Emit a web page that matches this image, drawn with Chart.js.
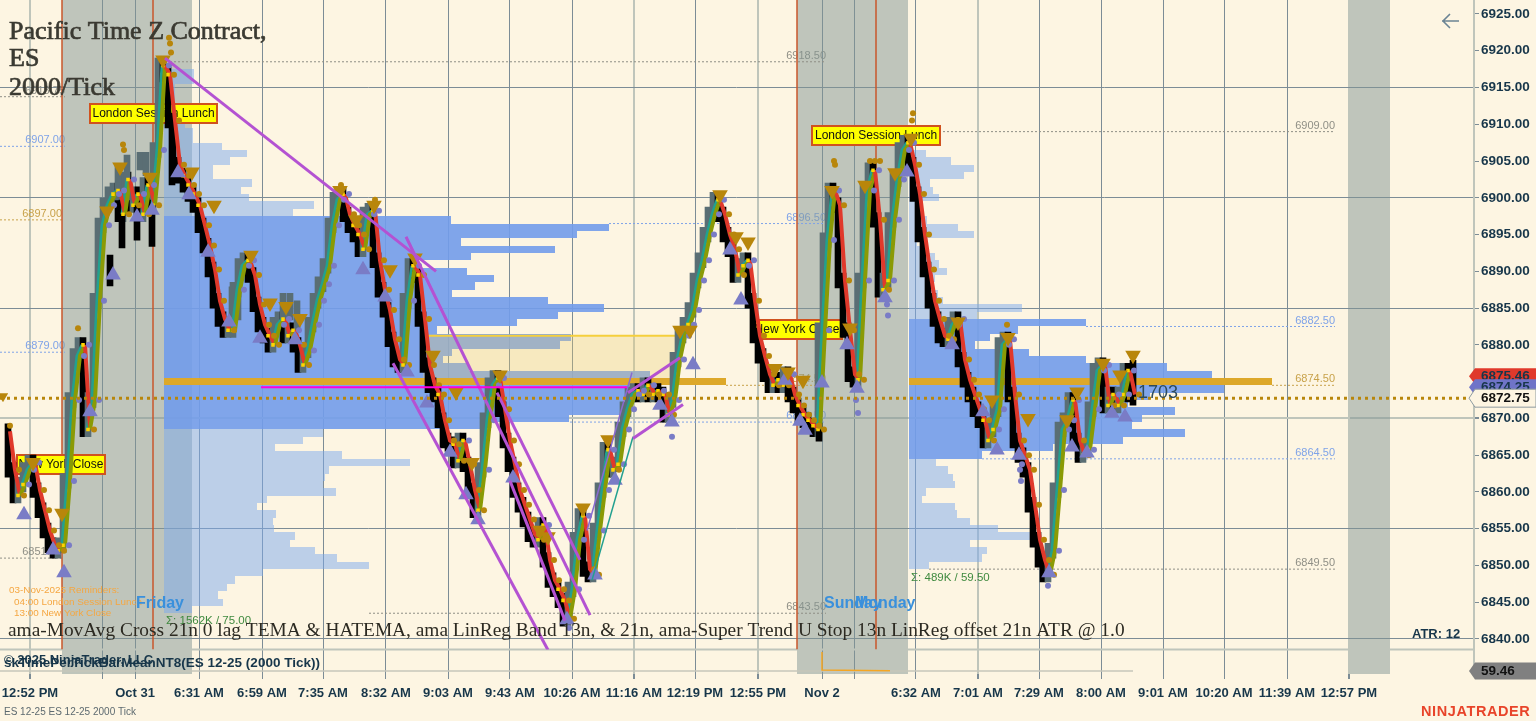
<!DOCTYPE html>
<html>
<head>
<meta charset="utf-8">
<title>ES 12-25 2000 Tick</title>
<script src="https://cdn.jsdelivr.net/npm/chart.js@4/dist/chart.umd.min.js"></script>
<style>
  html, body { margin: 0; padding: 0; background: #fdf5e2; overflow: hidden; }
  canvas { display: block; }
</style>
</head>
<body>
<canvas id="chart" width="1536" height="721"></canvas>
<script>
// --- DATA ---
// closes, one per bar. bar i sits on slot 8 + 5 * i of the time axis
const barClose = [
  6868.25, 6863, 6859.5, 6861, 6863, 6864, 6860.25, 6857.5, 6854.75, 6852.75,
  6852, 6852.75, 6861.5, 6872.5, 6878.5, 6880, 6868.5, 6872.5, 6886, 6896.25,
  6899, 6900.5, 6901, 6897.75, 6902.5, 6899, 6900.5, 6897.75, 6901.75, 6899,
  6906.5, 6918, 6916.75, 6910.5, 6904.5, 6903, 6901.75, 6900.5, 6899, 6896.25,
  6893.5, 6890.25, 6886, 6883.5, 6882, 6882, 6887.5, 6890.75, 6891.5, 6889.5,
  6885.5, 6882.75, 6881.25, 6880, 6882.75, 6883.5, 6881.25, 6882, 6880, 6877.25,
  6879.25, 6882.75, 6886, 6888.25, 6890.75, 6896.25, 6899.75, 6900.5, 6897.75, 6896.25,
  6895, 6893, 6897.75, 6898.25, 6891.5, 6887.5, 6884.75, 6880.75, 6878, 6877.25,
  6886, 6890.75, 6889.5, 6883.5, 6877.25, 6874.5, 6873.25, 6869.75, 6867, 6866.5,
  6864.25, 6867, 6863.75, 6860.25, 6857.5, 6863, 6869.75, 6874.5, 6875.5, 6871.25,
  6867, 6863.75, 6860.25, 6858.25, 6856.25, 6854.25, 6853.5, 6855.5, 6850.75, 6848,
  6846.75, 6845.25, 6842.75, 6846.75, 6853.5, 6856.75, 6849.5, 6848.75, 6854.75, 6860.25,
  6865.75, 6863, 6863.75, 6868.5, 6871.25, 6873.25, 6873.75, 6873.25, 6874.5, 6873.25,
  6873.75, 6873.25, 6870.5, 6872.5, 6878, 6881.25, 6882.75, 6884.75, 6888.75, 6891.5,
  6895, 6897.75, 6899.75, 6897.75, 6895, 6893, 6889.5, 6890.75, 6891.5, 6886,
  6881.25, 6878.5, 6876, 6874.5, 6875.25, 6874.5, 6876, 6873.25, 6871.75, 6870.5,
  6869.75, 6869, 6868.5, 6882, 6894.25, 6901, 6899, 6888.75, 6882, 6876,
  6875.25, 6888.75, 6901, 6903.75, 6897, 6887.5, 6888.75, 6897, 6902.5, 6906.5,
  6907.5, 6904.5, 6900.5, 6895, 6890.25, 6886, 6883.5, 6881.25, 6880.75, 6882.75,
  6883.5, 6878, 6875.25, 6873.25, 6871.25, 6869.75, 6867, 6868.5, 6871.25, 6880,
  6880.75, 6873.25, 6867, 6865, 6863, 6858.25, 6853.5, 6850.75, 6848.75, 6852,
  6860.25, 6868.5, 6869.75, 6872.5, 6867, 6865, 6865.75, 6871.25, 6876.5, 6877.25,
  6871.75, 6873.25, 6871.75, 6873.25, 6876.5, 6873.25
];

// bodies that stick out of the main run of candles
const extraDownSlot = [110, 122, 137, 152, 172, 1133, 819];
const extraDownHigh = [6892.2, 6899.7, 6899.7, 6899.7, 6909.9, 6877.9, 6869.4];
const extraDownLow = [6888, 6893.2, 6894.25, 6893.4, 6901.75, 6871.8, 6866.9];
const extraUpSlot = [118, 127, 140, 146, 232, 238, 283, 290, 297];
const extraUpHigh = [6904.5, 6905.8, 6906.2, 6906.2, 6887.9, 6887.9, 6887, 6887, 6886];
const extraUpLow = [6899.7, 6899.7, 6903.8, 6903, 6883.4, 6883.4, 6883.4, 6883.4, 6882];

// swing markers
const swingHighSlot = [33, 62, 107, 120, 150, 163, 192, 214, 251, 270, 286, 300, 340, 356, 374, 390, 415, 433, 456, 472, 500, 540, 548, 583, 608, 680, 690, 720, 736, 748, 775, 788, 803, 832, 850, 865, 895, 911, 958, 992, 1008, 1028, 1067, 1077, 1103, 1120, 1133];
const swingHighPrice = [6864, 6857.1, 6898.2, 6904.2, 6902.8, 6918.75, 6903.5, 6899, 6892.2, 6885.7, 6885.2, 6883.6, 6901, 6897, 6899, 6890.2, 6891.8, 6878.6, 6873.6, 6864, 6875.9, 6854.8, 6853.9, 6857.8, 6867.1, 6882, 6882, 6900.4, 6894.7, 6894, 6876.8, 6876.3, 6875.2, 6901, 6882.3, 6901.7, 6903.4, 6908.1, 6883.1, 6872.5, 6881, 6870, 6869.8, 6873.6, 6877.5, 6875.9, 6878.6];
const swingLowSlot = [24, 53, 64, 90, 113, 137, 152, 178, 189, 208, 229, 260, 295, 363, 385, 407, 427, 450, 466, 478, 513, 567, 595, 615, 660, 672, 693, 730, 741, 785, 800, 805, 822, 847, 857, 885, 907, 952, 983, 997, 1019, 1049, 1072, 1087, 1112, 1125];
const swingLowPrice = [6856.9, 6852.1, 6849, 6870.9, 6889.5, 6897.4, 6898.3, 6903.4, 6900.4, 6892.6, 6883.1, 6880.9, 6880.7, 6890.2, 6886.5, 6876.3, 6872.1, 6865.4, 6859.6, 6856.2, 6861.9, 6842.6, 6848.7, 6861.6, 6871.8, 6869.5, 6877.3, 6892.9, 6886.1, 6875.2, 6869.6, 6868.4, 6874.8, 6880, 6874.1, 6886.4, 6903.5, 6880, 6870.9, 6865.7, 6865, 6849, 6866.1, 6865.3, 6870.7, 6870.2];

// stray stop dots above highs and under lows
const strayGoldSlot = [169, 170, 171, 78, 10, 123, 124, 341, 375, 1007, 913, 912, 834, 835, 870, 875, 880];
const strayGoldPrice = [6921.75, 6921, 6919.75, 6882.25, 6869, 6907.25, 6906.5, 6901.75, 6899.75, 6882.75, 6911.5, 6910.5, 6905, 6904.5, 6905, 6905, 6905];
const strayLowSlot = [858, 856, 888, 887, 1021, 1022, 1020, 1048, 672, 569];
const strayLowPrice = [6870.75, 6872.5, 6884, 6885.5, 6861.5, 6863.75, 6863, 6847.25, 6867.5, 6841.5];

// volume profile Friday: one row per price, value is the right end of the row
const fridayStart = 164;
const fridayLevels = [6917, 6916, 6915, 6914, 6913, 6912, 6911, 6910, 6909, 6908, 6907, 6906, 6905, 6904, 6903, 6902, 6901, 6900, 6899, 6898,
  6897, 6896, 6895, 6894, 6893, 6892, 6891, 6890, 6889, 6888, 6887, 6886, 6885, 6884, 6883, 6882, 6881, 6880, 6879, 6878, 6877, 6876, 6875, 6874, 6873, 6872, 6871, 6870, 6869,
  6868, 6867, 6866, 6865, 6864, 6863, 6862, 6861, 6860, 6859, 6858, 6857, 6856, 6855, 6854, 6853, 6852, 6851, 6850, 6849, 6848, 6847, 6846, 6845, 6844];
const fridayRight = [194, 194, 175, 175, 175, 175, 178, 185, 193, 193, 222, 247, 230, 213, 213, 252, 241, 249, 314, 293,
  451, 609, 577, 461, 555, 471, 409, 467, 494, 475, 452, 548, 604, 558, 517, 437, 571, 560, 452, 443, 469, 650, 726, 640, 625, 623, 623, 569, 483,
  323, 303, 275, 342, 410, 329, 325, 323, 336, 267, 257, 276, 273, 274, 295, 290, 315, 337, 369, 263, 235, 227, 218, 223, 192];
const fridayValueArea = [6869, 6897];
const fridayPoc = 6875;

// volume profile Monday
const mondayStart = 909;
const mondayLevels = [6906, 6905, 6904, 6903, 6902, 6901, 6900, 6899, 6898, 6897, 6896, 6895, 6894, 6893, 6892, 6891, 6890, 6889, 6888, 6887, 6886, 6885, 6884,
  6883, 6882, 6881, 6880, 6879, 6878, 6877, 6876, 6875, 6874, 6873, 6872, 6871, 6870, 6869, 6868, 6867, 6866, 6865,
  6864, 6863, 6862, 6861, 6860, 6859, 6858, 6857, 6856, 6855, 6854, 6853, 6852, 6851, 6850];
const mondayRight = [926, 951, 974, 964, 930, 933, 939, 923, 920, 927, 958, 974, 917, 927, 935, 939, 947, 935, 927, 938, 943, 1022, 977,
  1086, 1018, 990, 975, 1029, 1086, 1167, 1212, 1272, 1224, 1150, 1128, 1175, 1142, 1132, 1185, 1123, 1053, 982,
  936, 948, 953, 955, 926, 922, 955, 957, 970, 998, 1037, 970, 987, 982, 929];
const mondayValueArea = [6865, 6883];
const mondayPoc = 6875;

// earlier profile levels still open, with their label
const nakedPrice = [6918.5, 6913.75, 6909, 6907, 6897, 6896.5, 6882.5, 6879, 6874.5, 6874.5, 6869.5, 6864.5, 6851, 6849.5, 6843.5];
const nakedFrom = [170, 0, 939, 0, 0, 609, 1086, 0, 726, 1272, 570, 982, 0, 929, 369];
const nakedTo = [826, 65, 1335, 65, 62, 826, 1335, 65, 826, 1335, 826, 1335, 62, 1335, 826];
const nakedKind = ['high', 'high', 'high', 'va', 'poc', 'va', 'va', 'va', 'poc', 'poc', 'va', 'va', 'low', 'low', 'low'];

// drawing tools: slot/price pairs
const trendFromSlot = [165, 406, 393, 497, 510, 628, 633];
const trendFromPrice = [6919, 6894.7, 6877.5, 6873.5, 6861.5, 6873.5, 6867.25];
const trendToSlot = [436, 590, 548, 580, 565, 680, 683];
const trendToPrice = [6890, 6843.25, 6838.5, 6850.75, 6842.5, 6878.25, 6871.9];

const sessionLineSlot = [62, 153, 797, 876];
const bandFrom = [62, 797, 1350];
const bandTo = [192, 908, 1390];

const pendingBox = { from: 423, to: 680, top: 6881.25, bottom: 6875.5 };
const magentaLine = { from: 261, to: 627, price: 6874.25 };

// lower panel
const lowerSlot = [0, 1133];
const lowerValue = [59.46, 59.46];
const spikeSlot = [822, 822, 890];
const spikeValue = [450, 80, 65];

// axes
const priceTicks = [6925, 6920, 6915, 6910, 6905, 6900, 6895, 6890, 6885, 6880, 6875, 6870, 6865, 6860, 6855, 6850, 6845, 6840];
const priceGrid = [6915, 6900, 6885, 6855, 6840];
const priceGridPale = [6870];
const timeSlots = [30, 102, 135, 199, 262, 323, 386, 448, 510, 572, 634, 695, 758, 822, 854, 916, 978, 1039, 1101, 1163, 1224, 1287, 1349];
const timeLabels = ['12:52 PM', '', 'Oct 31', '6:31 AM', '6:59 AM', '7:35 AM', '8:32 AM', '9:03 AM', '9:43 AM', '10:26 AM', '11:16 AM', '12:19 PM', '12:55 PM', 'Nov 2', '', '6:32 AM', '7:01 AM', '7:29 AM', '8:00 AM', '9:01 AM', '10:20 AM', '11:39 AM', '12:57 PM'];
const timeGridPale = [30, 634, 758, 978, 1349];

const lastPrice = 6872.75;
const tagPrices = [6875.46, 6874.25, 6872.75];

// --- COLOURS ---
const GRID = '#7c8c96';
const GRID_PALE = '#bfc5bb';
const RED = '#e0392b';
const OLIVE = '#8a9a05';
const TEAL = '#22a08f';
const GOLD = '#b8860b';
const PURPLE = '#7a7cc6';
const TREND = '#b452d2';
const AXIS_TEXT = '#17364a';
const CANDLE_DOWN = '#000000';
const CANDLE_UP = '#5a6e74';
const kindColor = { high: '#8f8f86', low: '#8f8f86', va: '#7fa3e8', poc: '#c8a24a' };

const slotOf = i => 8 + 5 * i;
const yMax = 6926.9, yMin = 6838.57;

// --- DATASETS ---
function lineSet(points, color, width, order, extra) {
    return Object.assign({ type: 'line', data: points, borderColor: color, borderWidth: width, pointRadius: 0, order: order, tension: 0, fill: false, spanGaps: false }, extra || {});
}
function dotSet(points, color, radius, style, order, rotation) {
    return { type: 'scatter', data: points, showLine: false, backgroundColor: color, borderColor: color, borderWidth: 0, pointRadius: radius, pointStyle: style, rotation: rotation || 0, order: order };
}
function profileSet(start, levels, right, va, poc, order) {
    return {
        label: 'Profile', type: 'bar', indexAxis: 'y', grouped: false, barThickness: 7.353, inflateAmount: 0, order: order,
        data: levels.map((p, i) => ({ y: p, x: [start, right[i]] })),
        backgroundColor: ctx => {
            const p = ctx.raw ? ctx.raw.y : 0;
            if (p === poc) return '#dda82a';
            return (p >= va[0] && p <= va[1]) ? 'rgba(114,156,235,0.9)' : 'rgba(123,169,238,0.5)';
        }
    };
}
function bodySet(slots, highs, lows, color, order) {
    return { type: 'bar', grouped: false, barThickness: 6, order: order, backgroundColor: color, data: slots.map((x, i) => ({ x: x, y: [lows[i], highs[i]] })) };
}

const datasets = [];

bandFrom.forEach((from, i) => {
    datasets.push(lineSet([{ x: from, y: yMax }, { x: bandTo[i], y: yMax }], 'transparent', 0, 100, { fill: { value: yMin }, backgroundColor: 'rgba(129,149,148,0.5)' }));
    datasets.push(lineSet([{ x: from, y: 500 }, { x: bandTo[i], y: 500 }], 'transparent', 0, 100, { yAxisID: 'y2', fill: { value: 0 }, backgroundColor: 'rgba(129,149,148,0.5)' }));
});

// panel divider
datasets.push(lineSet([{ x: 0, y: yMin }, { x: 1474, y: yMin }], GRID_PALE, 2, 95, { clip: false }));

datasets.push(profileSet(fridayStart, fridayLevels, fridayRight, fridayValueArea, fridayPoc, 90));
datasets.push(profileSet(mondayStart, mondayLevels, mondayRight, mondayValueArea, mondayPoc, 90));

// dashed level lines
nakedPrice.forEach((p, i) => {
    datasets.push(lineSet([{ x: nakedFrom[i], y: p }, { x: nakedTo[i], y: p }], kindColor[nakedKind[i]], 1, 85, { borderDash: [2, 2] }));
});

datasets.push(lineSet([{ x: pendingBox.from, y: pendingBox.top }, { x: pendingBox.to, y: pendingBox.top }], '#f5cf3c', 2, 80, { fill: { value: pendingBox.bottom }, backgroundColor: 'rgba(235,205,110,0.3)' }));

sessionLineSlot.forEach(s => {
    datasets.push(lineSet([{ x: s, y: yMax }, { x: s, y: yMin }], '#c9562b', 1.5, 70));
});

// candles: each body runs from this close to the next one
datasets.push({
    label: 'Candles', type: 'bar', grouped: false, barThickness: 6, order: 60,
    data: barClose.slice(0, -1).map((c, i) => ({ x: slotOf(i), y: [Math.min(c, barClose[i + 1]) - 1, Math.max(c, barClose[i + 1]) + 1] })),
    backgroundColor: ctx => barClose[ctx.dataIndex + 1] < barClose[ctx.dataIndex] ? CANDLE_DOWN : CANDLE_UP
});
datasets.push(bodySet(extraUpSlot, extraUpHigh, extraUpLow, CANDLE_UP, 59));
datasets.push(bodySet(extraDownSlot, extraDownHigh, extraDownLow, CANDLE_DOWN, 58));

// indicator lines and stops all follow the read closes, lagged by part of a bar
const closePoints = barClose.map((c, i) => ({ x: slotOf(i), y: c }));
datasets.push(lineSet(barClose.map((c, i) => ({ x: slotOf(i) - 1, y: c })), TEAL, 3, 41, {
    segment: { borderColor: ctx => ctx.p1.parsed.y > ctx.p0.parsed.y ? TEAL : 'transparent' }
}));
datasets.push(lineSet(closePoints.map(p => ({ x: p.x + 2, y: p.y })), OLIVE, 4, 40, {
    segment: { borderColor: ctx => ctx.p1.parsed.y >= ctx.p0.parsed.y ? OLIVE : RED }
}));
datasets.push(dotSet(closePoints.filter((p, i) => i > 0 && i < barClose.length - 1 && ((barClose[i + 1] - p.y) * (p.y - barClose[i - 1]) < 0 || Math.abs(p.y - barClose[i - 1]) < 1.6)), '#ffd400', 2.5, 'rect', 35));
datasets.push(dotSet(closePoints.filter((p, i) => i > 0 && p.y < barClose[i - 1]).map(p => ({ x: p.x + 6, y: p.y })), GOLD, 3, 'circle', 30));
datasets.push(dotSet(closePoints.filter((p, i) => i > 0 && p.y > barClose[i - 1]).map(p => ({ x: p.x + 6, y: p.y })), PURPLE, 3, 'circle', 30));
datasets.push(dotSet(strayGoldSlot.map((x, i) => ({ x: x, y: strayGoldPrice[i] })), GOLD, 3, 'circle', 30));
datasets.push(dotSet(strayLowSlot.map((x, i) => ({ x: x, y: strayLowPrice[i] })), PURPLE, 3, 'circle', 30));

datasets.push(dotSet(swingHighSlot.map((x, i) => ({ x: x, y: swingHighPrice[i] })), GOLD, 9, 'triangle', 20, 180));
datasets.push(dotSet(swingLowSlot.map((x, i) => ({ x: x, y: swingLowPrice[i] })), PURPLE, 9, 'triangle', 20));

trendFromSlot.forEach((s, i) => {
    datasets.push(lineSet([{ x: s, y: trendFromPrice[i] }, { x: trendToSlot[i], y: trendToPrice[i] }], TREND, 3, 15));
});
datasets.push(lineSet([{ x: 632, y: 6876.25 }, { x: 587, y: 6854.75 }], '#8a6ad0', 1.5, 16));
datasets.push(lineSet([{ x: 633, y: 6867.5 }, { x: 592, y: 6848 }], TEAL, 1.5, 16));

datasets.push(lineSet([{ x: magentaLine.from, y: magentaLine.price }, { x: magentaLine.to, y: magentaLine.price }], '#ff00e0', 2, 14));
datasets.push(lineSet([{ x: 0, y: lastPrice }, { x: 1470, y: lastPrice }], GOLD, 3, 13, { borderDash: [3, 4] }));
datasets.push(dotSet([{ x: 3, y: lastPrice + 0.25 }], GOLD, 6, 'triangle', 12, 180));

// lower panel
datasets.push(lineSet(lowerSlot.map((x, i) => ({ x: x, y: lowerValue[i] })), '#c6c6ba', 1.5, 50, { yAxisID: 'y2' }));
datasets.push(lineSet(spikeSlot.map((x, i) => ({ x: x, y: spikeValue[i] })), '#f5a623', 1.5, 49, { yAxisID: 'y2' }));

// --- TEXT AND FLAGS ---
function flag(ctx, text, x0, x1, y0, y1) {
    ctx.fillStyle = '#ffff00';
    ctx.strokeStyle = '#d0521f';
    ctx.lineWidth = 2;
    ctx.fillRect(x0, y0, x1 - x0, y1 - y0);
    ctx.strokeRect(x0, y0, x1 - x0, y1 - y0);
    ctx.fillStyle = '#111';
    ctx.font = '12px "Liberation Sans"';
    ctx.textAlign = 'center';
    ctx.textBaseline = 'middle';
    ctx.fillText(text, (x0 + x1) / 2, (y0 + y1) / 2 + 0.5);
}
function put(ctx, text, x, y, font, color, align) {
    ctx.font = font;
    ctx.fillStyle = color;
    ctx.textAlign = align || 'left';
    ctx.textBaseline = 'middle';
    ctx.fillText(text, x, y);
}
function tag(ctx, text, y, h, fill, stroke, color) {
    ctx.beginPath();
    ctx.moveTo(1469, y);
    ctx.lineTo(1475, y - h / 2);
    ctx.lineTo(1536, y - h / 2);
    ctx.lineTo(1536, y + h / 2);
    ctx.lineTo(1475, y + h / 2);
    ctx.closePath();
    ctx.fillStyle = fill;
    ctx.fill();
    if (stroke) { ctx.strokeStyle = stroke; ctx.lineWidth = 1; ctx.stroke(); }
    put(ctx, text, 1481, y + 0.5, 'bold 13.5px "Liberation Sans"', color);
}
// scale labels should not ask for room round the plot
function noPadding(axis) {
    axis.paddingLeft = 0;
    axis.paddingRight = 0;
    axis.paddingTop = 0;
    axis.paddingBottom = 0;
}

const overlay = {
    id: 'overlay',
    // profile rows touch each other, on whole pixels they leave no seams
    afterDatasetsUpdate(chart) {
        chart.data.datasets.forEach((ds, i) => {
            if (ds.label !== 'Profile') return;
            chart.getDatasetMeta(i).data.forEach(bar => {
                const top = Math.round(bar.y - bar.height / 2);
                const bottom = Math.round(bar.y + bar.height / 2);
                bar.y = (top + bottom) / 2;
                bar.height = bottom - top;
            });
        });
    },
    beforeDatasetsDraw(chart) {
        const { ctx, scales } = chart;
        ctx.save();
        nakedPrice.forEach((p, i) => {
            put(ctx, p.toFixed(2), nakedTo[i], scales.y.getPixelForValue(p) - 6, '11px "Liberation Sans"', kindColor[nakedKind[i]], 'right');
        });
        ctx.restore();
    },
    beforeDatasetDraw(chart, args) {
        if (chart.data.datasets[args.index].label !== 'Candles') return;
        const ctx = chart.ctx;
        ctx.save();
        flag(ctx, 'London Session Lunch', 90, 217, 104, 123);
        flag(ctx, 'London Session Lunch', 812, 940, 126, 145);
        flag(ctx, 'New York Close', 17, 105, 455, 474);
        flag(ctx, 'New York Close', 752, 842, 320, 339);
        ctx.restore();
    },
    afterDatasetsDraw(chart) {
        const ctx = chart.ctx;
        ctx.save();
        const titleFont = '26px "Liberation Serif"';
        ctx.strokeStyle = '#3b3a32';
        ctx.lineWidth = 0.7;
        [['Pacific Time Z Contract,', 32], ['ES', 59], ['2000/Tick', 88]].forEach(line => {
            put(ctx, line[0], 9, line[1], titleFont, '#3b3a32');
            ctx.strokeText(line[0], 9, line[1]);
        });

        put(ctx, '03-Nov-2025 Reminders:', 9, 590, '9.9px "Liberation Sans"', '#f5a742');
        put(ctx, '04:00 London Session Lunch', 14, 602, '9.9px "Liberation Sans"', '#f5a742');
        put(ctx, '13:00 New York Close', 14, 613, '9.9px "Liberation Sans"', '#f5a742');

        put(ctx, 'Friday', 136, 604, 'bold 16px "Liberation Sans"', '#3a90dc');
        put(ctx, 'Sunday', 824, 604, 'bold 16px "Liberation Sans"', '#3a90dc');
        put(ctx, 'Monday', 855, 604, 'bold 16px "Liberation Sans"', '#3a90dc');

        put(ctx, '\u03A3: 1562K / 75.00', 166, 621, '11.5px "Liberation Sans"', '#3f8a3f');
        put(ctx, '\u03A3: 489K / 59.50', 911, 578, '11.5px "Liberation Sans"', '#3f8a3f');

        put(ctx, 'ama-MovAvg Cross 21n 0 lag TEMA & HATEMA, ama LinReg Band 13n, & 21n, ama-Super Trend U Stop 13n LinReg offset 21n ATR @ 1.0', 8, 631, '19.36px "Liberation Serif"', '#2c2a22');

        put(ctx, '1703', 1138, 393, '18px "Liberation Sans"', '#2d4a5a');
        put(ctx, 'ATR: 12', 1412, 634, 'bold 13px "Liberation Sans"', AXIS_TEXT);

        put(ctx, '\u00A9 2025 NinjaTrader, LLC', 4, 660, 'bold 13px "Liberation Sans"', AXIS_TEXT);
        put(ctx, 'skTimePerTickBarMeanNT8(ES 12-25 (2000 Tick))', 4, 663, 'bold 13.5px "Liberation Sans"', AXIS_TEXT);
        ctx.restore();
    },
    afterDraw(chart) {
        const { ctx, scales } = chart;
        ctx.save();
        ctx.strokeStyle = '#6b8494';
        ctx.lineWidth = 1.6;
        ctx.beginPath();
        ctx.moveTo(1459, 21); ctx.lineTo(1442, 21);
        ctx.moveTo(1450, 14); ctx.lineTo(1443, 21); ctx.lineTo(1450, 28);
        ctx.stroke();

        const colors = [['#e0392b', null, AXIS_TEXT], ['#6f74c8', null, AXIS_TEXT], ['#fdf5e2', '#8c9aa0', '#111']];
        tagPrices.forEach((p, i) => {
            tag(ctx, p.toFixed(2), scales.y.getPixelForValue(p) + (i === 0 ? -2 : 0), i === 2 ? 18 : 16, colors[i][0], colors[i][1], colors[i][2]);
        });
        tag(ctx, lowerValue[0].toFixed(2), 671, 17, '#808080', null, '#111');

        put(ctx, 'ES 12-25 ES 12-25 2000 Tick', 4, 712, '10px "Liberation Sans"', '#5d6a70');
        ctx.letterSpacing = '0.6px';
        put(ctx, 'NINJATRADER', 1421, 712, 'bold 14.5px "Liberation Sans"', '#e8442a');
        ctx.restore();
    }
};

// --- CHART ---
const tickValue = ctx => ctx.tick ? ctx.tick.value : null;

new Chart(document.getElementById('chart').getContext('2d'), {
    data: { datasets: datasets },
    plugins: [overlay],
    options: {
        responsive: false,
        animation: false,
        layout: { padding: 0, autoPadding: false },
        plugins: { legend: { display: false }, tooltip: { enabled: false }, title: { display: false } },
        events: [],
        scales: {
            x: {
                type: 'linear', position: 'bottom', min: 0, max: 1474, offset: false,
                afterBuildTicks: axis => { axis.ticks = timeSlots.map(v => ({ value: v })); },
                afterFit: axis => { axis.height = 47; noPadding(axis); },
                border: { display: false },
                grid: {
                    offset: false,
                    color: ctx => timeGridPale.includes(tickValue(ctx)) ? GRID_PALE : GRID,
                    lineWidth: ctx => timeGridPale.includes(tickValue(ctx)) ? 2 : 1,
                    tickColor: GRID,
                    tickLength: 5
                },
                ticks: {
                    autoSkip: false, maxRotation: 0, padding: 7, color: AXIS_TEXT,
                    font: { family: '"Liberation Sans"', size: 13, weight: 'bold' },
                    callback: (value, index) => timeLabels[index]
                }
            },
            y: {
                type: 'linear', position: 'right', min: yMin, max: yMax, stack: 'panels', stackWeight: 649.5, offset: false,
                afterBuildTicks: axis => { axis.ticks = priceTicks.map(v => ({ value: v })); },
                afterFit: axis => { axis.width = 62; noPadding(axis); },
                border: { color: GRID_PALE, width: 2 },
                grid: {
                    offset: false,
                    color: ctx => priceGrid.includes(tickValue(ctx)) ? GRID : (priceGridPale.includes(tickValue(ctx)) ? GRID_PALE : 'transparent'),
                    lineWidth: ctx => priceGridPale.includes(tickValue(ctx)) ? 2 : 1,
                    tickColor: GRID,
                    tickLength: 5
                },
                ticks: {
                    padding: 2, color: AXIS_TEXT,
                    font: { family: '"Liberation Sans"', size: 13.5, weight: 'bold' },
                    callback: value => value.toFixed(2)
                }
            },
            y2: {
                type: 'linear', position: 'right', min: 0, max: 500, stack: 'panels', stackWeight: 24.5, offset: false,
                afterFit: axis => { axis.width = 62; noPadding(axis); },
                border: { color: GRID_PALE, width: 2 },
                grid: { display: false },
                ticks: { display: false }
            }
        }
    }
});
</script>
</body>
</html>
